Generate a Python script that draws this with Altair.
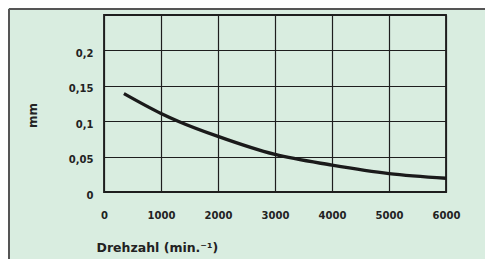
import altair as alt
import pandas as pd

rpm = [350, 1000, 1300, 2000, 3000, 4000, 5000, 6000]
mm = [0.139, 0.111, 0.100, 0.0785, 0.053, 0.038, 0.026, 0.0195]

x_ticks = [0, 1000, 2000, 3000, 4000, 5000, 6000]
y_ticks = [0, 0.05, 0.1, 0.15, 0.2, 0.25]

df = pd.DataFrame({"rpm": rpm, "mm": mm})

FONT = "DejaVu Sans"
label_expr = ("datum.value == 0 ? '0' : datum.value == 0.05 ? '0,05' : datum.value == 0.1 ? '0,1' : "
              "datum.value == 0.15 ? '0,15' : datum.value == 0.2 ? '0,2' : ''")

line = alt.Chart(df).mark_line(
    interpolate="monotone", color="#1a1a1a", strokeWidth=3.4, strokeCap="butt", clip=True
).encode(
    x=alt.X("rpm:Q", scale=alt.Scale(domain=[0, 6000], nice=False),
            axis=alt.Axis(values=x_ticks, format="d", title="Drehzahl (min.⁻¹)", labelFont=FONT,
                          labelFontWeight="bold", labelFontSize=10, labelColor="#222",
                          labelPadding=18, tickSize=0, domain=False,
                          grid=True, gridColor="#1e1e1e", gridWidth=1.2, gridOpacity=1,
                          titleFont=FONT, titleFontWeight="bold", titleFontSize=12.5,
                          titleColor="#222", titleAnchor="start", titleAlign="left",
                          titleX=-8, titleY=55, titleBaseline="middle",
                          labelFlush=False)),
    y=alt.Y("mm:Q", scale=alt.Scale(domain=[0, 0.25], nice=False),
            axis=alt.Axis(values=y_ticks, labelExpr=label_expr, title="mm",
                          labelFont=FONT, labelFontWeight="bold", labelFontSize=10,
                          labelColor="#222", labelPadding=11, tickSize=0, domain=False,
                          labelOffset=3,
                          grid=True, gridColor="#1e1e1e", gridWidth=1.2, gridOpacity=1,
                          titleFont=FONT, titleFontWeight="bold", titleFontSize=12,
                          titleColor="#222", titleX=-72, titleY=100,
                          titleAlign="center", titleBaseline="middle")),
)

frame_top = alt.Chart(df).mark_rule(color="#555", strokeWidth=2, clip=False).encode(
    x=alt.value(-95), x2=alt.value(400), y=alt.value(-6)
)
frame_left = alt.Chart(df).mark_rule(color="#555", strokeWidth=2, clip=False).encode(
    x=alt.value(-95), y=alt.value(-6), y2=alt.value(300)
)

chart = alt.layer(frame_top, frame_left, line).properties(
    width=342, height=177,
    autosize=alt.AutoSizeParams(type="none"),
    padding={"left": 96, "top": 7, "right": 39, "bottom": 67},
    background="#d9ede0",
).configure_view(stroke="#1e1e1e", strokeWidth=1.8)

chart.save("out.html", embed_options={"renderer": "svg", "actions": False})
